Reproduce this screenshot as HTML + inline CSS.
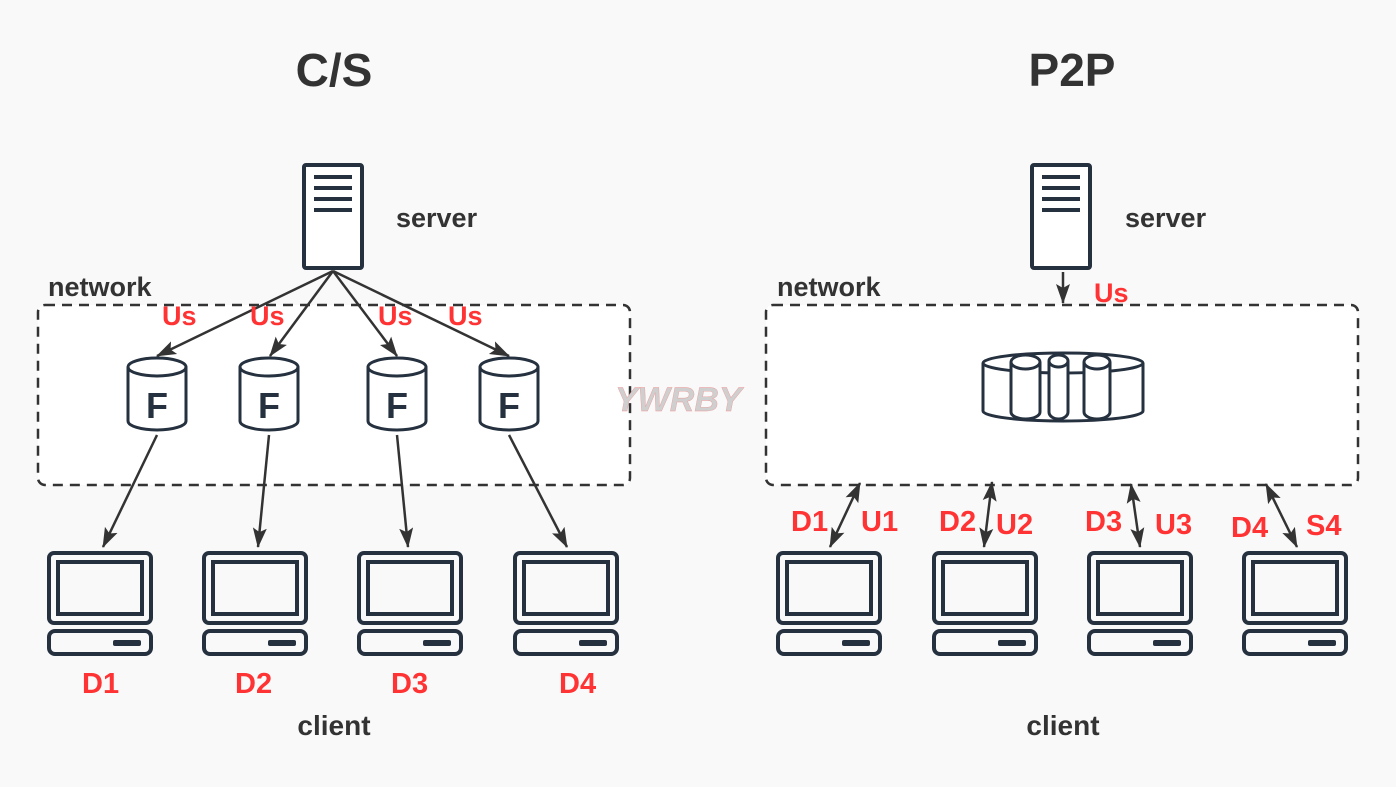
<!DOCTYPE html>
<html><head><meta charset="utf-8"><style>
html,body{margin:0;padding:0;background:#f9f9f9;}
svg{display:block;}
text{font-family:"Liberation Sans",sans-serif;font-weight:bold;}
</style></head><body>
<svg width="1396" height="787" viewBox="0 0 1396 787" xmlns="http://www.w3.org/2000/svg">
<defs>
<marker id="ah" markerWidth="20" markerHeight="16" refX="19" refY="8" orient="auto" markerUnits="userSpaceOnUse" viewBox="0 0 20 16">
<path d="M0,1 L20,8 L0,15 L4,8 Z" fill="#333"/>
</marker>
<marker id="ahs" markerWidth="20" markerHeight="16" refX="1" refY="8" orient="auto" markerUnits="userSpaceOnUse" viewBox="0 0 20 16">
<path d="M20,1 L0,8 L20,15 L16,8 Z" fill="#333"/>
</marker>
<g id="pc" fill="none" stroke="#263140" stroke-width="4">
<rect x="-51" y="0" width="102" height="70" rx="5"/>
<rect x="-42" y="9" width="84" height="52"/>
<rect x="-51" y="78" width="102" height="23" rx="6"/>
<rect x="13" y="87" width="28" height="6" rx="2" fill="#263140" stroke="none"/>
</g>
<g id="srv" fill="#fff" stroke="#263140" stroke-width="4">
<rect x="-29" y="0" width="58" height="103" rx="2"/>
<line x1="-19" y1="12" x2="19" y2="12"/><line x1="-19" y1="23" x2="19" y2="23"/>
<line x1="-19" y1="34" x2="19" y2="34"/><line x1="-19" y1="45" x2="19" y2="45"/>
</g>
<g id="cyl" fill="#fff" stroke="#263140" stroke-width="3">
<path d="M-29,9 L-29,63 A29,9 0 0 0 29,63 L29,9"/>
<ellipse cx="0" cy="9" rx="29" ry="9"/>
</g>
</defs>

<rect x="38" y="305" width="592" height="180" rx="7" fill="#fff" stroke="#333" stroke-width="2.5" stroke-dasharray="10,7"/>
<rect x="766" y="305" width="592" height="180" rx="7" fill="#fff" stroke="#333" stroke-width="2.5" stroke-dasharray="10,7"/>

<text x="615" y="411" font-size="34" font-style="italic" fill="#cfcfcf" stroke="#e99" stroke-width="0.4">YWRBY</text>

<text x="334" y="86" font-size="46" fill="#333" text-anchor="middle">C/S</text>
<text x="1072" y="86" font-size="46" fill="#333" text-anchor="middle">P2P</text>

<use href="#srv" x="333" y="165"/>
<use href="#srv" x="1061" y="165"/>
<text x="396" y="227" font-size="27" fill="#333">server</text>
<text x="1125" y="227" font-size="27" fill="#333">server</text>
<text x="48" y="296" font-size="27" fill="#333">network</text>
<text x="777" y="296" font-size="27" fill="#333">network</text>

<g stroke="#333" stroke-width="2.5" fill="none">
<line x1="333" y1="271" x2="157" y2="356" marker-end="url(#ah)"/>
<line x1="333" y1="271" x2="270" y2="356" marker-end="url(#ah)"/>
<line x1="333" y1="271" x2="397" y2="356" marker-end="url(#ah)"/>
<line x1="333" y1="271" x2="509" y2="356" marker-end="url(#ah)"/>
<line x1="157" y1="435" x2="103" y2="547" marker-end="url(#ah)"/>
<line x1="269" y1="435" x2="258" y2="547" marker-end="url(#ah)"/>
<line x1="397" y1="435" x2="408" y2="547" marker-end="url(#ah)"/>
<line x1="509" y1="435" x2="567" y2="547" marker-end="url(#ah)"/>
<line x1="1063" y1="272" x2="1063" y2="303" marker-end="url(#ah)"/>
<line x1="860" y1="483" x2="830" y2="547" marker-start="url(#ahs)" marker-end="url(#ah)"/>
<line x1="992" y1="482" x2="984" y2="547" marker-start="url(#ahs)" marker-end="url(#ah)"/>
<line x1="1131" y1="484" x2="1140" y2="547" marker-start="url(#ahs)" marker-end="url(#ah)"/>
<line x1="1266" y1="484" x2="1297" y2="547" marker-start="url(#ahs)" marker-end="url(#ah)"/>
</g>

<g font-size="27" fill="#ff3333">
<text x="162" y="325">Us</text><text x="250" y="325">Us</text>
<text x="378" y="325">Us</text><text x="448" y="325">Us</text>
<text x="1094" y="302">Us</text>
</g>

<use href="#cyl" x="157" y="358"/><use href="#cyl" x="269" y="358"/>
<use href="#cyl" x="397" y="358"/><use href="#cyl" x="509" y="358"/>
<g font-size="36" fill="#263140" text-anchor="middle">
<text x="157" y="418">F</text><text x="269" y="418">F</text>
<text x="397" y="418">F</text><text x="509" y="418">F</text>
</g>

<g fill="#fff" stroke="#263140" stroke-width="3">
<path d="M983,363 L983,411 A80,10 0 0 0 1143,411 L1143,363"/>
<ellipse cx="1063" cy="363" rx="80" ry="10"/>
<path d="M1011,362 L1011,412 A14.5,7 0 0 0 1040,412 L1040,362"/>
<ellipse cx="1025.5" cy="362" rx="14.5" ry="7"/>
<path d="M1049,361 L1049,412 A9.5,7 0 0 0 1068,412 L1068,361"/>
<ellipse cx="1058.5" cy="361" rx="9.5" ry="6"/>
<path d="M1084,362 L1084,412 A13,7 0 0 0 1110,412 L1110,362"/>
<ellipse cx="1097" cy="362" rx="13" ry="7"/>
</g>

<use href="#pc" x="100" y="553"/><use href="#pc" x="255" y="553"/>
<use href="#pc" x="410" y="553"/><use href="#pc" x="566" y="553"/>
<use href="#pc" x="829" y="553"/><use href="#pc" x="985" y="553"/>
<use href="#pc" x="1140" y="553"/><use href="#pc" x="1295" y="553"/>

<g font-size="29" fill="#ff3333">
<text x="82" y="693">D1</text><text x="235" y="693">D2</text>
<text x="391" y="693">D3</text><text x="559" y="693">D4</text>
<text x="791" y="531">D1</text><text x="861" y="531">U1</text>
<text x="939" y="531">D2</text><text x="996" y="534">U2</text>
<text x="1085" y="531">D3</text><text x="1155" y="534">U3</text>
<text x="1231" y="537">D4</text><text x="1306" y="535">S4</text>
</g>
<text x="334" y="735" font-size="28" fill="#333" text-anchor="middle">client</text>
<text x="1063" y="735" font-size="28" fill="#333" text-anchor="middle">client</text>
</svg>
</body></html>
